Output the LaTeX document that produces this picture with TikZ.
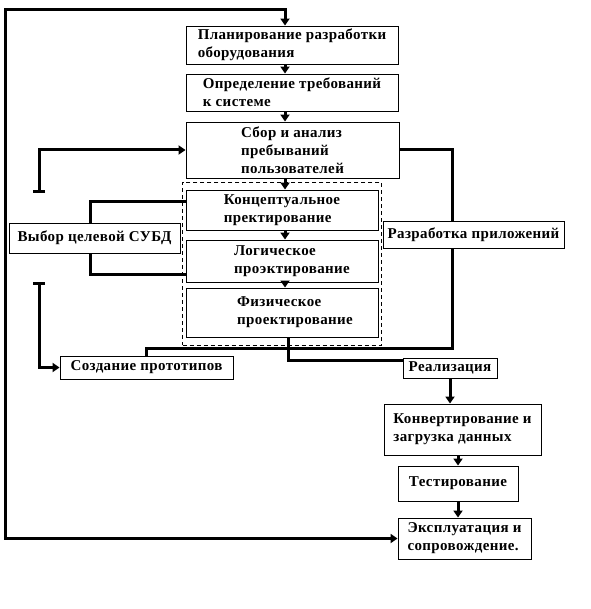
\documentclass[tikz,border=0pt]{standalone}
\usepackage{fontspec}
\setmainfont{Liberation Serif}[LetterSpace=2.5]
\usepackage{tikz}
\usetikzlibrary{arrows.meta}
\usetikzlibrary{fit}

\tikzset{
	box/.style={draw, line width=0.9pt, inner sep=0pt, align=left,
		font=\fontsize{15}{18}\selectfont\bfseries},
	group/.style={draw, dashed, line width=0.8pt, dash pattern=on 4pt off 3pt,
		inner xsep=3pt, inner ysep=7.5pt},
	link/.style={line width=3pt},
	arr/.style={link, -{Triangle[length=7pt,width=9pt]}},
	barr/.style={link, {Bar[width=12pt]}-{Triangle[length=7pt,width=9pt]}},
	loop/.style={link, {Triangle[length=7pt,width=9pt]}-{Triangle[length=7pt,width=9pt]}},
}

\begin{document}
\begin{tikzpicture}[x=1pt, y=-1pt]
		\useasboundingbox (0,0) rectangle (590,609);
		
		\node[box, minimum width=212, minimum height=38](plan) at (292,45){Планирование разработки\\оборудования};
		\node[box, minimum width=212, minimum height=37](req) at (292,92.5){Определение требований\\к системе};
		\node[box, minimum width=213, minimum height=56](sbor) at (292.5,150){Сбор и анализ\\пребываний\\пользователей};
		
		\node[box, minimum width=192, minimum height=40](concept) at (282,210){Концептуальное\\пректирование};
		\node[box, minimum width=192, minimum height=42](logic) at (282,261){\hspace*{20pt}Логическое\\\hspace*{20pt}проэктирование};
		\node[box, minimum width=192, minimum height=49](phys) at (282,312.5){\hspace*{26pt}Физическое\\\hspace*{26pt}проектирование};
		\node[group, fit=(concept)(logic)(phys)](design){};
		
		\node[box, minimum width=171, minimum height=30](dbms) at (94.5,238){Выбор целевой СУБД};
		\node[box, minimum width=181, minimum height=27](apps) at (473.5,234.5){Разработка приложений};
		\node[box, minimum width=173, minimum height=23](proto) at (146.5,367.5){Создание прототипов};
		\node[box, minimum width=94, minimum height=20](impl) at (450,368){Реализация};
		\node[box, minimum width=157, minimum height=51](conv) at (462.5,429.5){Конвертирование и\\загрузка данных};
		\node[box, minimum width=120, minimum height=35](test) at (458,483.5){Тестирование};
		\node[box, minimum width=133, minimum height=41](oper) at (464.5,538.5){Эксплуатация и\\сопровождение.};
		
		\coordinate (axis) at (285,0);
		\coordinate (top) at (5,10);
		\coordinate (fb1) at (39,193);
		\coordinate (fb2) at (39,282);
		\coordinate (d1) at (90,202);
		\coordinate (d2) at (90,274);
		\coordinate (a1) at (452,348);
		\coordinate (p1) at (288,360);
		
		\draw[arr] (plan.south -| axis) -- (req.north -| axis);
		\draw[arr] (req.south -| axis) -- (sbor.north -| axis);
		\draw[arr] (sbor.south -| axis) -- (concept.north -| axis);
		\draw[arr] (concept.south -| axis) -- (logic.north -| axis);
		\draw[arr] (logic.south -| axis) -- (phys.north -| axis);
		
		\draw[loop] (oper.west) -- (oper.west -| top) -- (top) -- (top -| axis) -- (plan.north -| axis);
		
		\draw[barr] (fb1) |- (sbor.west);
		\draw[barr] (fb2) |- (proto.west);
		
		\draw[link] (dbms.north -| d1) -- (d1) -- (d1 -| concept.west);
		\draw[link] (dbms.south -| d2) -- (d2) -- (d2 -| logic.west);
		
		\draw[link] (sbor.east) -| (a1 |- apps.north);
		\draw[link] (a1 |- apps.south) -- (a1) -| (proto.north);
		\draw[link] (phys.south -| p1) -- (p1) -- (p1 -| impl.west);
		
		\draw[arr] (impl.south) -- (impl.south |- conv.north);
		\draw[arr] (conv.south -| test.north) -- (test.north);
		\draw[arr] (test.south) -- (test.south |- oper.north);
	\end{tikzpicture}
\end{document}
